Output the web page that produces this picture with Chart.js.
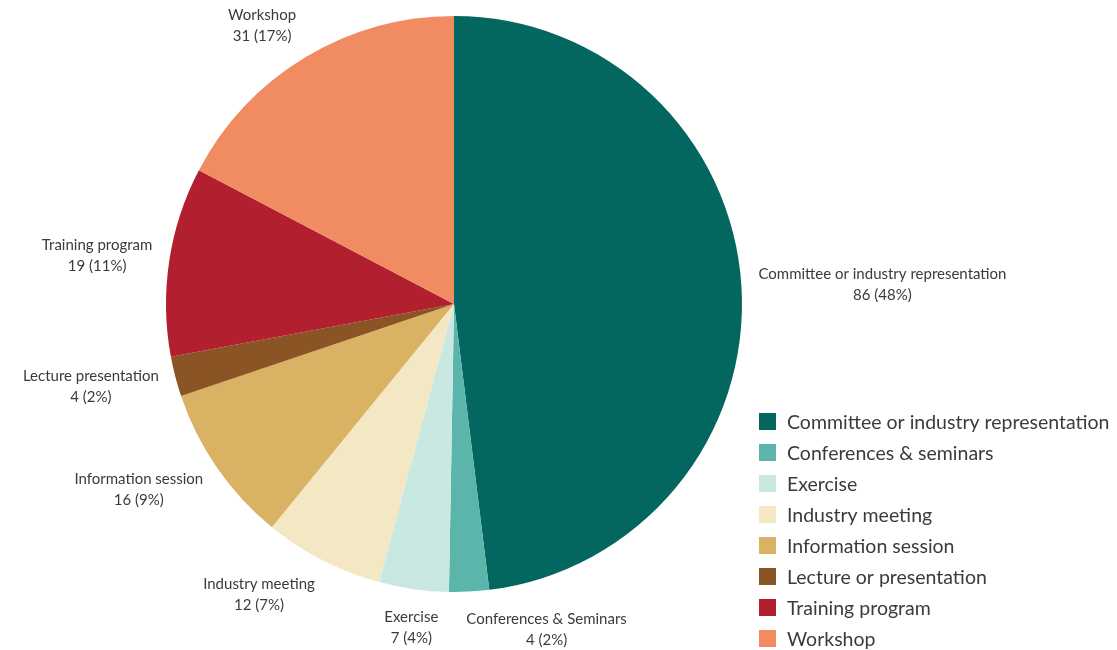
<!DOCTYPE html>
<html>
<head>
<meta charset="utf-8">
<script src="https://cdn.jsdelivr.net/npm/chart.js@4"></script>
<style>
  html, body { margin: 0; padding: 0; background: #fff; }
  #wrap { width: 1117px; height: 650px; position: relative; }
</style>
</head>
<body>
<div id="wrap"><canvas id="pie-chart"></canvas></div>
<script>
// Activity counts, clockwise from the top
const categories = ["Committee or industry representation", "Conferences & seminars", "Exercise", "Industry meeting", "Information session", "Lecture or presentation", "Training program", "Workshop"];
const sliceLabels = ["Committee or industry representation", "Conferences & Seminars", "Exercise", "Industry meeting", "Information session", "Lecture presentation", "Training program", "Workshop"];
const counts = [86, 4, 7, 12, 16, 4, 19, 31];
const percents = ["48%", "2%", "4%", "7%", "9%", "2%", "11%", "17%"];
const colours = ["#03675f", "#5bb5aa", "#c9e8e2", "#f4e8c4", "#d9b264", "#8b5425", "#b21f2f", "#f08b62"];

const FONT = "Lato, 'Open Sans', sans-serif";
const TEXT = "#3b3b3b";

// Two-line labels outside each slice, nudged sideways when they collide
const sliceLabelPlugin = {
    id: 'sliceLabels',
    afterDatasetsDraw(chart) {
        const ctx = chart.ctx;
        const meta = chart.getDatasetMeta(0);
        ctx.save();
        ctx.font = "15px " + FONT;
        ctx.fillStyle = TEXT;
        ctx.textAlign = 'center';
        ctx.textBaseline = 'middle';
        const boxes = [];
        meta.data.forEach((arc, i) => {
            const mid = (arc.startAngle + arc.endAngle) / 2;
            const dx = Math.cos(mid), dy = Math.sin(mid);
            const r = arc.outerRadius + 17;
            const line1 = sliceLabels[i];
            const line2 = counts[i] + " (" + percents[i] + ")";
            const w = Math.max(ctx.measureText(line1).width, ctx.measureText(line2).width);
            const h = 42;
            // near the bottom/top the text is centred, elsewhere its inner edge sits on the anchor
            const side = Math.abs(dx) < 0.2 ? 0 : Math.sign(dx);
            const cx = arc.x + dx * r + side * w / 2;
            const cy = arc.y + dy * r + dy * h / 2;
            boxes.push({ cx, cy, w, h, dx, line1, line2 });
        });
        // resolve overlaps, later slices first
        const placed = [];
        boxes.slice().reverse().forEach(b => {
            placed.forEach(p => {
                const ox = Math.abs(b.cx - p.cx) < (b.w + p.w) / 2 + 10;
                const oy = Math.abs(b.cy - p.cy) < (b.h + p.h) / 2;
                if (ox && oy) {
                    const dir = b.dx >= 0 ? 1 : -1;
                    b.cx = p.cx + dir * ((b.w + p.w) / 2 + 28);
                }
            });
            placed.push(b);
        });
        boxes.forEach(b => {
            ctx.fillText(b.line1, b.cx, b.cy - 10);
            ctx.fillText(b.line2, b.cx, b.cy + 11);
        });
        ctx.restore();
    }
};

// Square-marker legend in the lower right corner
const cornerLegend = {
    id: 'cornerLegend',
    afterDraw(chart) {
        const ctx = chart.ctx;
        ctx.save();
        ctx.font = "19.5px " + FONT;
        ctx.textBaseline = 'middle';
        ctx.textAlign = 'left';
        categories.forEach((name, i) => {
            const y = 422 + i * 31;
            ctx.fillStyle = colours[i];
            ctx.fillRect(759, y - 9, 17, 17);
            ctx.fillStyle = TEXT;
            ctx.fillText(name, 787, y + 1);
        });
        ctx.restore();
    }
};

const ctxPie = document.getElementById('pie-chart').getContext('2d');
const pieChart = new Chart(ctxPie, {
    type: 'pie',
    data: {
        labels: categories,
        datasets: [{
            data: counts,
            backgroundColor: colours,
            borderWidth: 0
        }]
    },
    options: {
        responsive: true,
        maintainAspectRatio: false,
        animation: false,
        layout: {
            padding: { left: 166, top: 16, right: 375, bottom: 58 }
        },
        plugins: {
            legend: { display: false },
            tooltip: { enabled: false }
        }
    },
    plugins: [sliceLabelPlugin, cornerLegend]
});
</script>
</body>
</html>
